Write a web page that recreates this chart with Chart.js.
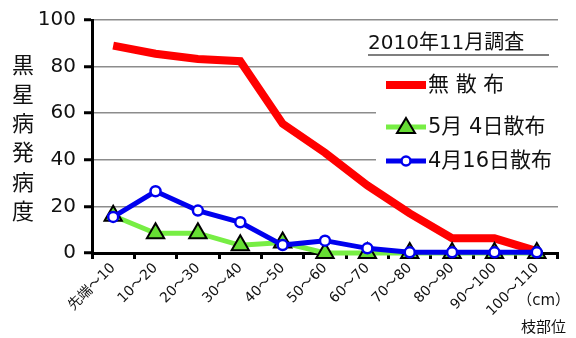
<!DOCTYPE html>
<html>
<head>
<meta charset="utf-8">
<script src="https://cdn.jsdelivr.net/npm/chart.js@4"></script>
<style>
  html, body { margin: 0; padding: 0; background: #fff; }
  #wrap { width: 576px; height: 338px; }
</style>
</head>
<body>
<div id="wrap"><canvas id="myChart" width="576" height="338"></canvas></div>
<script>
// categories (branch position, cm from tip)
const positions = ["先端～10", "10～20", "20～30", "30～40", "40～50", "50～60",
  "60～70", "70～80", "80～90", "90～100", "100～110"];
// disease index per series
const noSpray = [89, 85.5, 83.3, 82.3, 55.5, 43, 29, 17, 6.3, 6.3, 0.8];
const spray0504 = [16, 8.5, 8.5, 3.3, 4.5, 0, 0, 0, 0, 0, 0];
const spray0416 = [15.5, 26.5, 18.2, 13.2, 3.4, 5.3, 2, 0.3, 0.3, 0.3, 0.3];
const seriesNames = ["無 散 布", "5月 4日散布", "4月16日散布"];
const yTicks = [0, 20, 40, 60, 80, 100];

const jpFont = '"DejaVu Sans", "Noto Sans CJK JP", sans-serif';
const ctx = document.getElementById("myChart");

// extra text: y title, survey note, legend, unit
const extras = {
  id: "extras",
  afterDraw(chart) {
    const c = chart.ctx;
    const ds = chart.data.datasets;
    c.save();
    c.fillStyle = "#111";
    c.textAlign = "center";
    c.textBaseline = "middle";
    c.font = "22px " + jpFont;
    const yTitle = ["黒", "星", "病", "発", "病", "度"];
    yTitle.forEach((ch, i) => c.fillText(ch, 23, 67 + i * 29.2));

    // survey note
    c.textAlign = "left";
    c.font = "20px " + jpFont;
    c.fillText("2010年11月調査", 368, 44);
    c.strokeStyle = "#555";
    c.lineWidth = 1.5;
    c.beginPath();
    c.moveTo(368, 55);
    c.lineTo(549, 55);
    c.stroke();

    // legend box
    c.fillStyle = "#fff";
    c.fillRect(376, 72, 182, 104);
    const rows = [85, 127, 161];
    ds.forEach((d, i) => {
      const y = rows[i];
      c.strokeStyle = d.borderColor;
      c.lineWidth = d.borderWidth;
      c.beginPath();
      c.moveTo(386, y);
      c.lineTo(426, y);
      c.stroke();
      if (i === 1) {
        c.fillStyle = d.pointBackgroundColor;
        c.strokeStyle = d.pointBorderColor;
        c.lineWidth = 2;
        c.beginPath();
        c.moveTo(406, y - 9);
        c.lineTo(415, y + 6);
        c.lineTo(397, y + 6);
        c.closePath();
        c.fill();
        c.stroke();
      } else if (i === 2) {
        c.fillStyle = "#fff";
        c.strokeStyle = d.borderColor;
        c.lineWidth = 2.5;
        c.beginPath();
        c.arc(406, y, 4.5, 0, Math.PI * 2);
        c.fill();
        c.stroke();
      }
      c.fillStyle = "#111";
      c.font = "21px " + jpFont;
      c.fillText(d.label, 428, y + 1);
    });

    // unit
    c.font = "15px " + jpFont;
    c.textAlign = "right";
    c.fillText("（cm）", 570, 301);
    c.fillText("枝部位", 566, 328);
    c.restore();
  }
};

new Chart(ctx, {
  type: "line",
  data: {
    labels: positions,
    datasets: [
      {
        label: seriesNames[0],
        data: noSpray,
        borderColor: "#ff0000",
        borderWidth: 8,
        pointRadius: 0,
        tension: 0,
        clip: false,
        order: 3
      },
      {
        label: seriesNames[1],
        data: spray0504,
        borderColor: "#77ee44",
        borderWidth: 5,
        pointStyle: "triangle",
        pointRadius: 10,
        pointBackgroundColor: "#66dd33",
        pointBorderColor: "#000",
        pointBorderWidth: 2,
        tension: 0,
        clip: false,
        order: 2
      },
      {
        label: seriesNames[2],
        data: spray0416,
        borderColor: "#0000ee",
        borderWidth: 5,
        pointStyle: "circle",
        pointRadius: 5,
        pointBackgroundColor: "#fff",
        pointBorderColor: "#0000ee",
        pointBorderWidth: 2.5,
        tension: 0,
        clip: false,
        order: 1
      }
    ]
  },
  options: {
    responsive: false,
    animation: false,
    layout: { padding: { left: 0, top: 19, right: 18, bottom: 0 } },
    plugins: {
      legend: { display: false },
      tooltip: { enabled: false }
    },
    scales: {
      x: {
        offset: true,
        grid: {
          offset: true,
          drawOnChartArea: false,
          drawTicks: true,
          tickLength: 6,
          tickWidth: 3,
          tickColor: "#000"
        },
        border: { display: true, color: "#000", width: 3 },
        ticks: {
          minRotation: 45,
          maxRotation: 45,
          autoSkip: false,
          color: "#111",
          font: { family: jpFont, size: 14 },
          padding: 1
        },
        afterFit(scale) { scale.height = 85; }
      },
      y: {
        min: 0,
        max: 100,
        afterBuildTicks(scale) { scale.ticks = yTicks.map(v => ({ value: v })); },
        grid: {
          color: "#8c8c8c",
          lineWidth: 1.5,
          drawTicks: true,
          tickLength: 8,
          tickWidth: 3,
          tickColor: "#000"
        },
        border: { display: true, color: "#000", width: 3 },
        ticks: {
          color: "#111",
          font: { family: jpFont, size: 20 },
          padding: 8
        },
        afterFit(scale) { scale.width = 92; }
      }
    }
  },
  plugins: [extras]
});
</script>
</body>
</html>
